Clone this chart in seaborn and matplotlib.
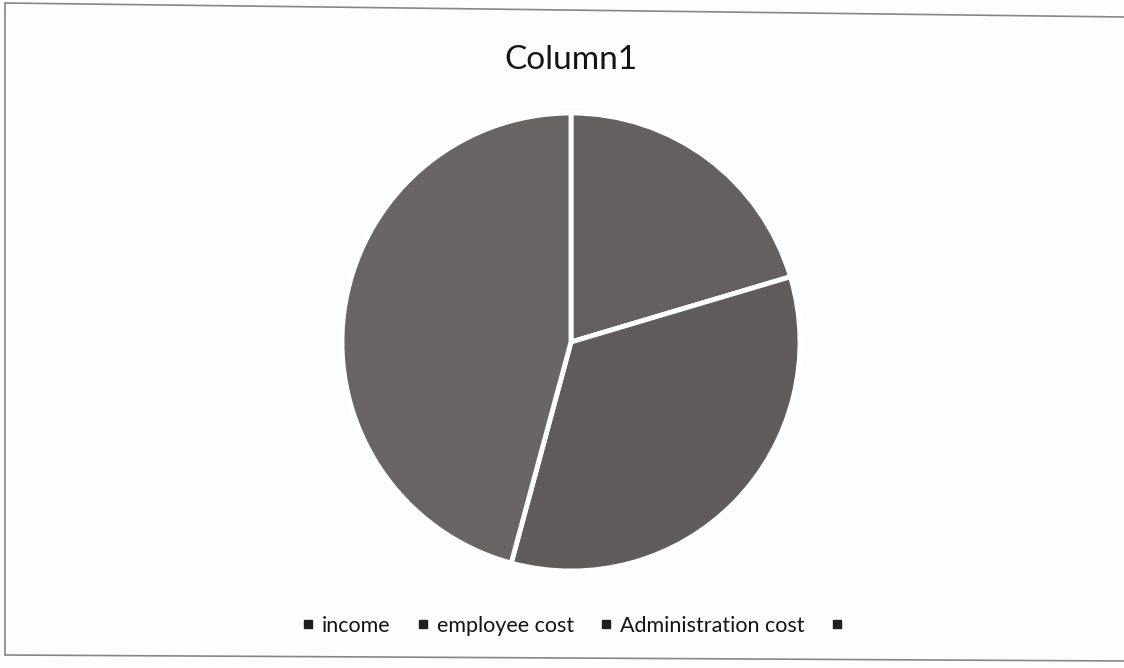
import matplotlib
matplotlib.use("Agg")
import matplotlib.pyplot as plt
import seaborn as sns
from matplotlib.lines import Line2D

sns.set_theme(style="white")
plt.rcParams['font.family'] = ['Lato', 'DejaVu Sans']

title = "Column1"
categories = ["income", "employee cost", "Administration cost", ""]
values = [20.4, 33.8, 45.8, 0]
slice_colors = ["#646060", "#605c5c", "#696565", "#6e6a6a"]

W, H = 1124, 668
fig = plt.figure(figsize=(W / 100, H / 100), dpi=100)
fig.patch.set_facecolor("#fdfdfd")

# pie axes: center (571, 342) px, radius ~229 px
cx, cy, r = 571, 342, 229
ax = fig.add_axes([(cx - r) / W, (H - cy - r) / H, 2 * r / W, 2 * r / H])
ax.pie(values[:3], colors=slice_colors[:3], startangle=90, counterclock=False,
       radius=1, wedgeprops=dict(edgecolor="white", linewidth=3.5))
ax.set_xlim(-1.0, 1.0)
ax.set_ylim(-1.0, 1.0)
ax.set_aspect("equal")
ax.axis("off")

fig.text(cx / W, 1 - 60 / H, title, ha="center", va="center",
         fontsize=24, color="#141414")

handles = [Line2D([0], [0], marker="s", linestyle="none", markersize=6,
                  markerfacecolor="#1e1e1e", markeredgecolor="#1e1e1e")
           for _ in categories]
fig.legend(handles, categories, loc="center", bbox_to_anchor=(576 / W, 1 - 626 / H),
           ncol=4, frameon=False, fontsize=15.5, handlelength=0.6,
           handletextpad=0.35, columnspacing=1.2, labelcolor="#141414")

# photographed page frame
frame = dict(color="#8a8585", linewidth=1.2, transform=fig.transFigure)
fig.add_artist(Line2D([5 / W, 1], [1 - 3 / H, 1 - 17 / H], **frame))
fig.add_artist(Line2D([5 / W, 5 / W], [1 - 3 / H, 1 - 655 / H], **frame))
fig.add_artist(Line2D([5 / W, 1], [1 - 655 / H, 1 - 661 / H], **frame))

fig.savefig("out.png", dpi=100, facecolor=fig.get_facecolor())
